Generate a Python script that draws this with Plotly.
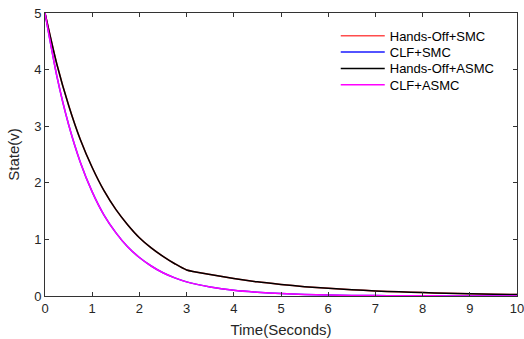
import plotly.graph_objects as go

t = [0, 0.25, 0.5, 0.75, 1.0, 1.25, 1.5, 1.75, 2.0, 2.25, 2.5, 2.75, 3.0,
     3.5, 4.0, 4.5, 5.0, 5.5, 6.0, 6.5, 7.0, 7.5, 8.0, 8.5, 9.0, 9.5, 10.0]

hands_off_smc = [5.00, 4.10, 3.37, 2.76, 2.27, 1.86, 1.53, 1.26, 1.03, 0.85, 0.70, 0.57, 0.46,
                 0.38, 0.31, 0.25, 0.205, 0.165, 0.135, 0.11, 0.09, 0.073, 0.06, 0.048, 0.04, 0.032, 0.026]
clf_smc = [5.00, 3.89, 3.03, 2.36, 1.84, 1.43, 1.12, 0.87, 0.68, 0.53, 0.41, 0.32, 0.25,
           0.16, 0.10, 0.065, 0.042, 0.027, 0.017, 0.011, 0.007, 0.005, 0.003, 0.002, 0.001, 0.001, 0.0]
hands_off_asmc = [5.00, 4.10, 3.37, 2.76, 2.27, 1.86, 1.53, 1.26, 1.03, 0.85, 0.70, 0.57, 0.46,
                  0.38, 0.31, 0.25, 0.205, 0.165, 0.135, 0.11, 0.09, 0.073, 0.06, 0.048, 0.04, 0.032, 0.026]
clf_asmc = [5.00, 3.89, 3.03, 2.36, 1.84, 1.43, 1.12, 0.87, 0.68, 0.53, 0.41, 0.32, 0.25,
            0.16, 0.10, 0.065, 0.042, 0.027, 0.017, 0.011, 0.007, 0.005, 0.003, 0.002, 0.001, 0.001, 0.0]

names = ["Hands-Off+SMC", "CLF+SMC", "Hands-Off+ASMC", "CLF+ASMC"]
series = [hands_off_smc, clf_smc, hands_off_asmc, clf_asmc]
colors = ["#ff4d4d", "#1a1aff", "#000000", "#ff00ff"]
widths = [1.5, 1.5, 1.5, 1.5]
legend_ids = ["legend", "legend2", "legend3", "legend4"]
legend_y = [0.919, 0.862, 0.804, 0.746]

x_ticks = list(range(0, 11))
y_ticks = [0, 1, 2, 3, 4, 5]

fig = go.Figure()
for name, ys, c, w, lg in zip(names, series, colors, widths, legend_ids):
    fig.add_trace(go.Scatter(x=t, y=ys, mode="lines", name=name, legend=lg,
                             line=dict(color=c, width=w, shape="spline", smoothing=0.6)))

axis_common = dict(showgrid=False, zeroline=False, showline=True, linecolor="#333333",
                   linewidth=1, mirror="ticks", ticks="inside", ticklen=4, tickcolor="#333333",
                   ticklabeloverflow="allow", automargin=False,
                   tickfont=dict(family="Liberation Sans, Arial", size=13, color="#262626"))

legend_style = dict(x=0.616, xanchor="left", yanchor="middle",
                    bgcolor="rgba(255,255,255,0)", borderwidth=0,
                    font=dict(family="Liberation Sans, Arial", size=13, color="#000000"),
                    itemwidth=44)

layout_legends = {lg: dict(y=ly, **legend_style) for lg, ly in zip(legend_ids, legend_y)}

fig.update_layout(
    width=524, height=339,
    margin=dict(l=45, r=7, t=13, b=43),
    plot_bgcolor="white", paper_bgcolor="white",
    xaxis=dict(range=[0, 10], tickvals=x_ticks,
               title=dict(text="Time(Seconds)", standoff=9,
                          font=dict(family="Liberation Sans, Arial", size=15, color="#262626")),
               **axis_common),
    yaxis=dict(range=[0, 5], tickvals=y_ticks,
               title=dict(text="State(v)", standoff=10,
                          font=dict(family="Liberation Sans, Arial", size=15, color="#262626")),
               **axis_common),
    showlegend=True,
    **layout_legends,
)

fig.write_html("out.html")
